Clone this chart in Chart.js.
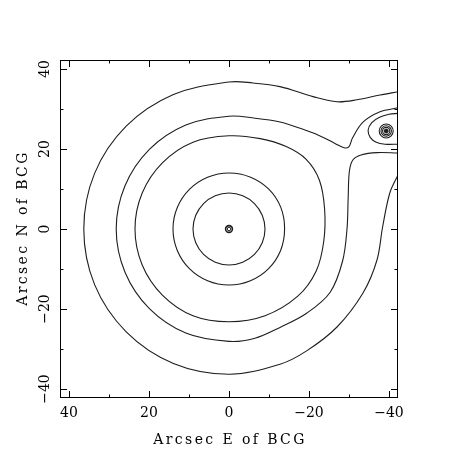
<!DOCTYPE html>
<html>
<head>
<meta charset="utf-8">
<script src="https://cdn.jsdelivr.net/npm/chart.js@4/dist/chart.umd.min.js"></script>
<style>
  html, body { margin: 0; padding: 0; background: #fff; }
  #wrap { width: 458px; height: 458px; }
</style>
</head>
<body>
<div id="wrap"><canvas id="c" width="458" height="458"></canvas></div>
<script>
// axis range and ticks (arcsec)
const AXIS_MIN = -42.25;
const AXIS_MAX = 42.25;
const MAJOR_TICKS = [40, 20, 0, -20, -40];
const TICK_LABELS = ["40", "20", "0", "\u221220", "\u221240"];
const MINOR_TICKS = [30, 10, -10, -30];
const X_TITLE = "Arcsec E of BCG";
const Y_TITLE = "Arcsec N of BCG";

// contour lines, [x, y] in arcsec
const RING_9 = [
  [9, 0], [8.31, 3.44], [6.36, 6.36], [3.44, 8.31], [0, 9], [-3.44, 8.31], [-6.36, 6.36], [-8.31, 3.44],
  [-9, 0], [-8.31, -3.44], [-6.36, -6.36], [-3.44, -8.31], [0, -9], [3.44, -8.31], [6.36, -6.36], [8.31, -3.44],
];
const RING_14 = [
  [14, 0], [12.93, 5.36], [9.9, 9.9], [5.36, 12.93], [0, 14], [-5.4, 12.95], [-9.95, 9.95], [-12.95, 5.4],
  [-13.9, 0], [-12.9, -5.36], [-9.9, -9.9], [-5.36, -12.93], [0, -14], [5.36, -12.93], [9.9, -9.9], [12.93, -5.36],
];
const RING_23 = [
  [23.5, 0], [21.7, 9], [16.6, 16.6], [9, 21.7], [0, 23.3], [-7.8, 22.6], [-14.3, 20.6], [-19.3, 17.4],
  [-22.6, 12.2], [-23.9, 5], [-23.7, -3], [-21.8, -10.5], [-17.2, -16.8], [-9, -21.7], [0, -23.2],
  [9, -21.7], [16.6, -16.6], [21.7, -9],
];
const LEVEL_28 = [
  [-42.25, 19], [-37, 19.1], [-33, 18.5], [-31, 17.3], [-30.1, 14.5], [-29.8, 8], [-29.5, 0],
  [-28.4, -8], [-25.3, -15.8], [-19.5, -21], [-12.75, -24.6], [-6.5, -27.3], [0, -28.1],
  [10.8, -26], [19.9, -19.9], [26, -10.8], [28.2, 0], [26, 10.8], [19.9, 19.9], [10.8, 26],
  [0, 28.2], [-6.5, 27.7], [-12.75, 26.75], [-18, 25.1], [-22.5, 23.4], [-26.5, 21.4],
  [-28.8, 20.3], [-30, 20.6], [-30.9, 22.8], [-33.5, 26.7], [-37.75, 29.3], [-42.25, 30.3],
];
const LEVEL_36 = [
  [-42.25, 34.3], [-37.75, 33.5], [-32, 32.3], [-27, 31.8], [-21, 33.1], [-12.75, 35.6], [-6, 36.5],
  [0, 36.75], [13.9, 33.6], [25.7, 25.7], [33.6, 13.9], [36.3, 0], [33.6, -13.9], [25.7, -25.7],
  [13.9, -33.6], [0, -36.3], [-12.75, -33.8], [-19.5, -30.4], [-27, -24.5], [-33.5, -16],
  [-37, -7.75], [-38.4, 0.5], [-40.2, 9], [-42.25, 13.5],
];
const KNOT_OVAL = [
  [-42.25, 28.9], [-40, 28.7], [-37.5, 27.9], [-35.7, 26.6], [-34.8, 24.8], [-35.3, 22.9],
  [-36.8, 21.7], [-39, 21.2], [-42.25, 21.2],
];
// tight peaks: centre position, ring sizes drawn as markers
const BCG_PEAK = [0, 0];
const KNOT_PEAK = [-39.3, 24.5];

const LINE = "#1e1e1e";

function toXY(pts) {
  return pts.map(([x, y]) => ({ x: x, y: y }));
}
function contour(pts, closed) {
  return {
    data: toXY(pts),
    closed: !!closed,
    showLine: true,
    borderColor: LINE,
    borderWidth: 1.1,
    pointRadius: 0,
    tension: 0.35,
    fill: false,
  };
}
function ring(pos, r, width, filled) {
  return {
    data: toXY([pos]),
    pointStyle: "circle",
    pointRadius: r,
    borderColor: LINE,
    borderWidth: width,
    backgroundColor: filled ? LINE : "rgba(0,0,0,0)",
  };
}

// closed contours: let the line wrap around like a radar line
const loops = {
  id: "loops",
  afterDatasetsUpdate(chart) {
    chart.data.datasets.forEach((ds, i) => {
      if (!ds.closed) return;
      let line = chart.getDatasetMeta(i).dataset;
      if (!line) return;
      line._loop = true;
      line._fullLoop = true;
      line._pointsUpdated = false;
      delete line._segments;
      delete line._path;
    });
  },
};

const frame = {
  id: "frame",
  afterDraw(chart) {
    const { ctx, chartArea: a, scales } = chart;
    const sx = scales.x, sy = scales.y;
    ctx.save();
    ctx.strokeStyle = "#000";
    ctx.lineWidth = 1;
    ctx.strokeRect(a.left + 0.5, a.top + 0.5, a.right - a.left - 1, a.bottom - a.top - 1);
    ctx.beginPath();
    const tick = (v, len) => {
      let px = Math.round(sx.getPixelForValue(v)) + 0.5;
      ctx.moveTo(px, a.bottom); ctx.lineTo(px, a.bottom - len);
      ctx.moveTo(px, a.top); ctx.lineTo(px, a.top + len);
      let py = Math.round(sy.getPixelForValue(v)) + 0.5;
      ctx.moveTo(a.left, py); ctx.lineTo(a.left + len, py);
      ctx.moveTo(a.right, py); ctx.lineTo(a.right - len, py);
    };
    MAJOR_TICKS.forEach((v) => tick(v, 7));
    MINOR_TICKS.forEach((v) => tick(v, 3.5));
    ctx.stroke();

    ctx.fillStyle = "#000";
    ctx.font = '14px "DejaVu Serif"';
    ctx.textAlign = "center";
    ctx.textBaseline = "middle";
    MAJOR_TICKS.forEach((v, i) => {
      ctx.fillText(TICK_LABELS[i], sx.getPixelForValue(v), a.bottom + 15);
      ctx.save();
      ctx.translate(a.left - 15, sy.getPixelForValue(v));
      ctx.rotate(-Math.PI / 2);
      ctx.fillText(TICK_LABELS[i], 0, 0);
      ctx.restore();
    });
    ctx.letterSpacing = "2.4px";
    ctx.fillText(X_TITLE, (a.left + a.right) / 2 + 1, a.bottom + 42);
    ctx.translate(a.left - 37, (a.top + a.bottom) / 2);
    ctx.rotate(-Math.PI / 2);
    ctx.fillText(Y_TITLE, 1, 0);
    ctx.restore();
  },
};

new Chart(document.getElementById("c"), {
  type: "scatter",
  data: {
    datasets: [
      contour(RING_9, true),
      contour(RING_14, true),
      contour(RING_23, true),
      contour(LEVEL_28),
      contour(LEVEL_36),
      contour(KNOT_OVAL),
      ring(BCG_PEAK, 3.4, 1.6, false),
      ring(BCG_PEAK, 1.8, 1, false),
      ring(KNOT_PEAK, 7, 1.1, false),
      ring(KNOT_PEAK, 5.2, 1.1, false),
      ring(KNOT_PEAK, 3.6, 1.1, false),
      ring(KNOT_PEAK, 2, 1, true),
    ],
  },
  options: {
    responsive: false,
    animation: false,
    layout: { padding: { left: 60, right: 60, top: 60, bottom: 60 } },
    plugins: { legend: { display: false }, tooltip: { enabled: false } },
    scales: {
      x: { type: "linear", reverse: true, min: AXIS_MIN, max: AXIS_MAX, display: false },
      y: { type: "linear", min: AXIS_MIN, max: AXIS_MAX, display: false },
    },
  },
  plugins: [loops, frame],
});
</script>
</body>
</html>
